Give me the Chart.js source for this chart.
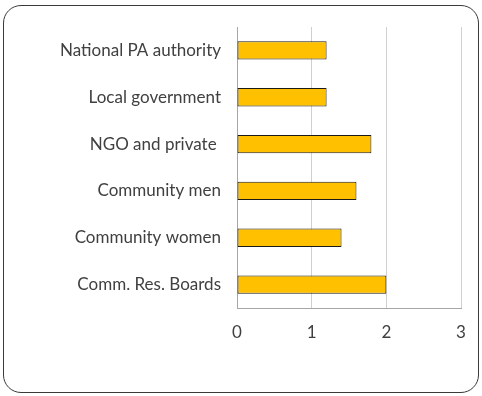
<!DOCTYPE html>
<html>
<head>
<meta charset="utf-8">
<script src="https://cdn.jsdelivr.net/npm/chart.js@4"></script>
<style>
  body { margin: 0; background: #fff; }
  #frame {
    position: absolute; left: 3px; top: 5px;
    width: 474px; height: 386px;
    border: 1px solid #3a3a3a; border-radius: 18px;
    overflow: hidden;
  }
  #chart { display: block; }
</style>
</head>
<body>
<div id="frame"><canvas id="chart" width="474" height="386"></canvas></div>
<script>
const categories = ["National PA authority", "Local government", "NGO and private ", "Community men", "Community women", "Comm. Res. Boards"];
const values = [1.2, 1.2, 1.8, 1.6, 1.4, 2.0];
const xTicks = [0, 1, 2, 3];

const ctx = document.getElementById('chart').getContext('2d');

const config = {
    type: 'bar',
    data: {
        labels: categories,
        datasets: [{
            data: values,
            backgroundColor: '#FFC000',
            borderColor: '#1a1a1a',
            borderWidth: 1,
            borderSkipped: false,
            categoryPercentage: 1,
            barPercentage: 0.39,
        }]
    },
    options: {
        indexAxis: 'y',
        responsive: false,
        animation: false,
        layout: { padding: { left: 0, right: 17, top: 21, bottom: 0 } },
        plugins: {
            legend: { display: false },
            tooltip: { enabled: false }
        },
        scales: {
            x: {
                min: 0,
                max: 3,
                afterBuildTicks: (scale) => { scale.ticks = xTicks.map(v => ({ value: v })); },
                afterFit: (scale) => { scale.height = 84; scale.paddingLeft = 0; scale.paddingRight = 0; },
                grid: { color: '#d0d0d0', drawTicks: false },
                border: { color: '#a6a6a6' },
                ticks: { color: '#404040', padding: 14, font: { family: 'Lato', size: 17 } }
            },
            y: {
                afterFit: (scale) => { scale.width = 233; scale.paddingTop = 0; scale.paddingBottom = 0; },
                grid: { display: false, drawTicks: false },
                border: { color: '#a6a6a6' },
                ticks: { color: '#404040', padding: 16, font: { family: 'Lato', size: 17 } }
            }
        }
    }
};

const myChart = new Chart(ctx, config);
</script>
</body>
</html>
